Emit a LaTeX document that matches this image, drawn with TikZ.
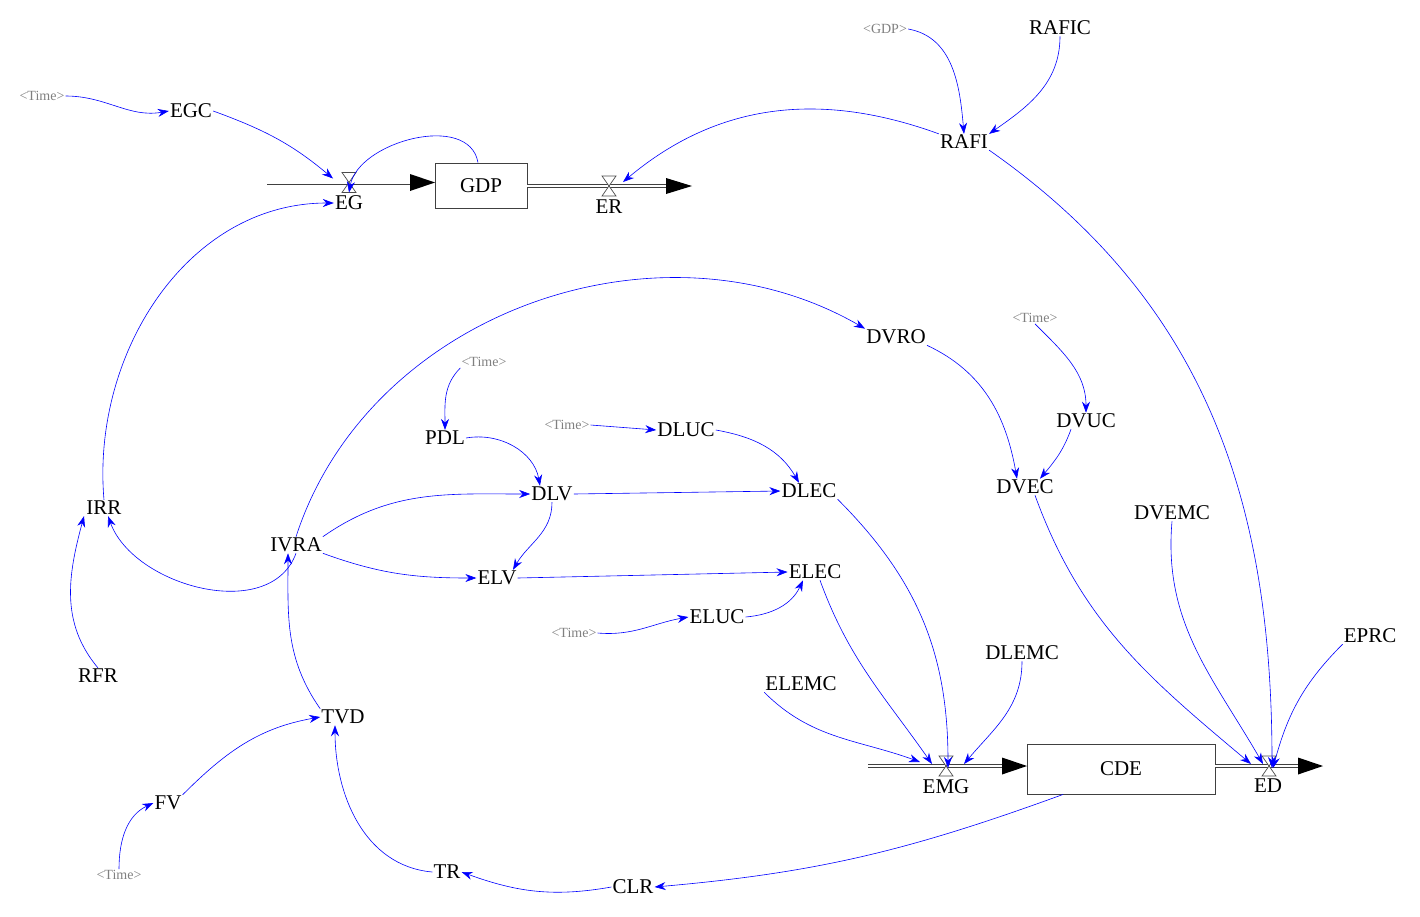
\documentclass[tikz,border=0pt]{standalone}
\usepackage{fontspec}
\setmainfont{Liberation Serif}
\usetikzlibrary{arrows.meta}
\begin{document}
\begin{tikzpicture}[x=1pt,y=-1pt,
 lab/.style={inner sep=1pt,font=\fontsize{21}{23}\selectfont},
 sh/.style={inner sep=1pt,text=gray,font=\fontsize{14}{16}\selectfont},
 ln/.style={blue,line width=0.6pt,-{Stealth[length=11pt,width=8pt]}},
 pipe/.style={draw=black!75,double=white,double distance=2.2pt,line width=0.9pt},
 ftip/.style={fill=black},
 box/.style={draw=black!75,line width=0.9pt,inner sep=0pt}]
\useasboundingbox (0,0) rectangle (1420,916);
% stocks
\node[box,minimum width=92pt,minimum height=45pt,lab] (GDP) at (481,185.5) {GDP};
\node[box,minimum width=188pt,minimum height=50pt,lab] (CDE) at (1121,769) {CDE};
% pipes
\coordinate (p1) at (267,182.5); \coordinate (p2) at (527,186); \coordinate (p3) at (690,186);
\coordinate (p4) at (868,766); \coordinate (p5) at (1322,766);
\draw[pipe] (p1) -- (412,182.5);
\fill[ftip] (410,174) -- (435,182.5) -- (410,191) -- cycle;
\draw[pipe] (p2) -- (668,186);
\fill[ftip] (666,178) -- (692,186) -- (666,194) -- cycle;
\draw[pipe] (p4) -- (1004,766);
\fill[ftip] (1002,757.5) -- (1027,766) -- (1002,774.5) -- cycle;
\draw[pipe] (1215,766) -- (1300,766);
\fill[ftip] (1298,757.5) -- (1323,766) -- (1298,774.5) -- cycle;
% valves
\foreach \n/\x/\y in {vEG/349/182.5,vER/609/186,vEMG/946/766,vED/1269/766}{
 \fill[white] (\x-7,\y-10) -- (\x+7,\y-10) -- (\x-7,\y+10) -- (\x+7,\y+10) -- cycle;
 \draw[black!70,line width=0.7pt] (\x-7,\y-10) -- (\x+7,\y-10) -- (\x-7,\y+10) -- (\x+7,\y+10) -- cycle;
 \coordinate (\n) at (\x,\y);}
% labels
\node[lab] (EG) at (349,203) {EG};
\node[lab] (ER) at (609,207) {ER};
\node[lab] (EMG) at (946,787) {EMG};
\node[lab] (ED) at (1268,786) {ED};
\node[sh] (t1) at (42,96) {<Time>};
\node[lab] (EGC) at (191,111) {EGC};
\node[sh] (gsh) at (885,29) {<GDP>};
\node[lab] (RAFIC) at (1060,28) {RAFIC};
\node[lab] (RAFI) at (964,142) {RAFI};
\node[sh] (t2) at (1035,318) {<Time>};
\node[lab] (DVRO) at (896,337) {DVRO};
\node[lab] (DVUC) at (1086,421) {DVUC};
\node[lab] (DVEC) at (1025,487) {DVEC};
\node[lab] (DVEMC) at (1172,513) {DVEMC};
\node[lab] (EPRC) at (1370,636) {EPRC};
\node[sh] (t3) at (484,362) {<Time>};
\node[lab] (PDL) at (445,438) {PDL};
\node[sh] (t4) at (567,425) {<Time>};
\node[lab] (DLUC) at (686,430) {DLUC};
\node[lab] (DLV) at (552,494) {DLV};
\node[lab] (DLEC) at (809,491) {DLEC};
\node[lab] (IRR) at (104,508) {IRR};
\node[lab] (IVRA) at (296,545) {IVRA};
\node[lab] (ELV) at (497,578) {ELV};
\node[lab] (ELEC) at (815,572) {ELEC};
\node[sh] (t5) at (574,633) {<Time>};
\node[lab] (ELUC) at (717,617) {ELUC};
\node[lab] (RFR) at (98,676) {RFR};
\node[lab] (DLEMC) at (1022,653) {DLEMC};
\node[lab] (ELEMC) at (801,684) {ELEMC};
\node[lab] (TVD) at (343,717) {TVD};
\node[lab] (FV) at (168,803) {FV};
\node[sh] (t6) at (119,875) {<Time>};
\node[lab] (TR) at (447,872) {TR};
\node[lab] (CLR) at (633,887) {CLR};
% connectors
\draw[ln] (t1.east) to[out=0,in=190] (EGC.west);
\draw[ln] (EGC.east) to[out=-20,in=140] ([xshift=-16pt,yshift=4pt]vEG);
\draw[ln] ([xshift=-3pt]GDP.north) to[out=100,in=80] ([yshift=-10pt]vEG);
\draw[ln] (IRR.north) to[out=95,in=180] (EG.west);
\draw[ln] (RAFI.north west) to[out=160,in=40] ([xshift=14pt,yshift=4pt]vER);
\draw[ln] (gsh.east) to[out=-10,in=95] (RAFI.north);
\draw[ln] (RAFIC.south) to[out=-90,in=35] (RAFI.north east);
\draw[ln] (RAFI.south east) to[out=-35,in=90] ([xshift=3pt,yshift=-2pt]vED);
\draw[ln] (t2.south) to[out=-45,in=90] (DVUC.north);
\draw[ln] (DVRO.south east) to[out=-25,in=100] ([xshift=-8pt]DVEC.north);
\draw[ln] ([xshift=-15pt]DVUC.south) to[out=-110,in=50] ([xshift=15pt]DVEC.north);
\draw[ln] ([xshift=10pt]DVEC.south) to[out=-70,in=140] ([xshift=-18pt,yshift=2pt]vED);
\draw[ln] (DVEMC.south) to[out=-95,in=120] ([xshift=-6pt,yshift=2pt]vED);
\draw[ln] (EPRC.south west) to[out=-135,in=75] ([xshift=4pt,yshift=-2pt]vED);
\draw[ln] (IVRA.north) to[out=72,in=150] (DVRO.north west);
\draw[ln] (IVRA.north east) to[out=35,in=180] (DLV.west);
\draw[ln] (IVRA.south east) to[out=-20,in=180] (ELV.west);
\draw[ln] (t3.south west) to[out=-135,in=90] (PDL.north);
\draw[ln] (PDL.east) to[out=10,in=100] ([xshift=-12pt]DLV.north);
\draw[ln] (t4.east) -- (DLUC.west);
\draw[ln] (DLUC.east) to[out=-10,in=120] ([xshift=-10pt]DLEC.north);
\draw[ln] (DLV.east) -- (DLEC.west);
\draw[ln] (DLV.south) to[out=-90,in=60] ([xshift=16pt]ELV.north);
\draw[ln] (ELV.east) -- (ELEC.west);
\draw[ln] (t5.east) to[out=-5,in=190] (ELUC.west);
\draw[ln] (ELUC.east) to[out=5,in=-115] ([xshift=-12pt]ELEC.south);
\draw[ln] (DLEC.south east) to[out=-45,in=90] ([xshift=2pt,yshift=-2pt]vEMG);
\draw[ln] ([xshift=5pt]ELEC.south) to[out=-70,in=125] ([xshift=-14pt,yshift=2pt]vEMG);
\draw[ln] (ELEMC.south west) to[out=-45,in=160] ([xshift=-26pt,yshift=4pt]vEMG);
\draw[ln] (DLEMC.south) to[out=-90,in=50] ([xshift=18pt,yshift=2pt]vEMG);
\draw[ln] (IVRA.south) to[out=-110,in=-70] ([xshift=4pt]IRR.south);
\draw[ln] (RFR.north) to[out=130,in=-105] ([xshift=-20pt]IRR.south);
\draw[ln] (TVD.north west) to[out=125,in=-90] ([xshift=-8pt]IVRA.south);
\draw[ln] (FV.north east) to[out=45,in=190] (TVD.west);
\draw[ln] (t6.north) to[out=90,in=205] (FV.west);
\draw[ln] ([xshift=-58pt]CDE.south) to[out=-160,in=5] (CLR.east);
\draw[ln] (CLR.west) to[out=-170,in=-20] (TR.east);
\draw[ln] (TR.west) to[out=175,in=-90] ([xshift=-8pt]TVD.south);
\end{tikzpicture}
\end{document}
